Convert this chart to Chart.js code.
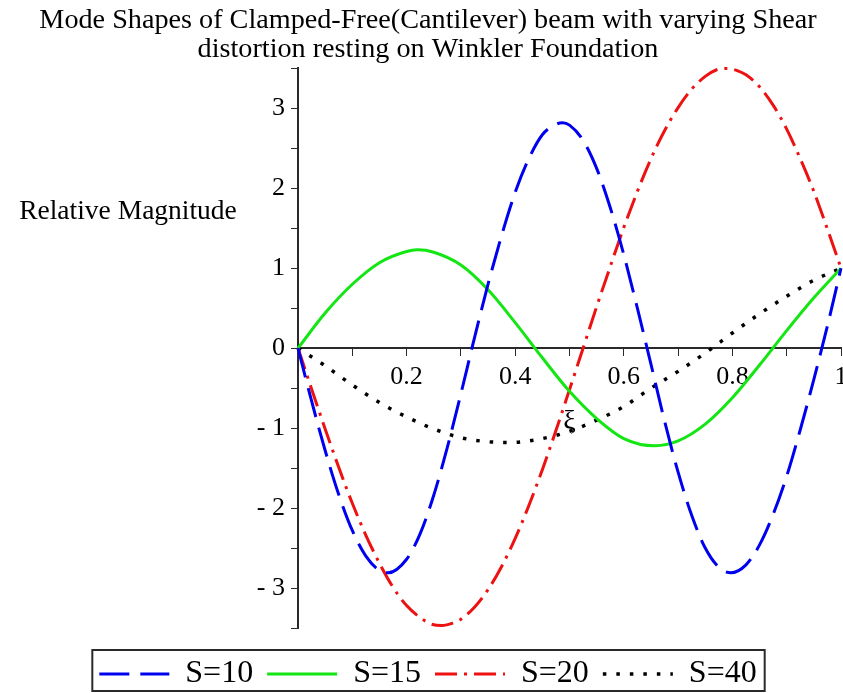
<!DOCTYPE html>
<html><head><meta charset="utf-8">
<script src="https://cdn.jsdelivr.net/npm/chart.js@4.4.1/dist/chart.umd.min.js"></script>
<style>html,body{margin:0;padding:0;background:#fff}#wrap{width:843px;height:693px;position:relative}</style>
</head><body><div id="wrap"><canvas id="c"></canvas></div>
<script>
// ---- data ----
const titleLines = ['Mode Shapes of Clamped-Free(Cantilever) beam with varying Shear', 'distortion resting on Winkler Foundation'];
const yAxisTitle = 'Relative Magnitude';
const xAxisTitle = 'ξ';
const seriesLabels = ['S=10', 'S=15', 'S=20', 'S=40'];
const xLabelTicks = [0.2, 0.4, 0.6, 0.8, 1];

const xi10 = [0, .025, .05, .075, .1, .125, .15, .166, .2, .225, .25, .275, .3, .325, .35, .375, .4, .425, .45, .475, .487, .5, .525, .55, .575, .6, .625, .65, .675, .7, .725, .75, .775, .797, .825, .85, .875, .9, .925, .95, .975, 1];
const s10  = [0, -0.66, -1.28, -1.83, -2.28, -2.60, -2.78, -2.81, -2.64, -2.32, -1.84, -1.24, -0.57, 0.13, 0.80, 1.41, 1.95, 2.37, 2.67, 2.80, 2.82, 2.79, 2.60, 2.25, 1.76, 1.17, 0.50, -0.20, -0.91, -1.55, -2.09, -2.50, -2.74, -2.81, -2.71, -2.46, -2.08, -1.60, -1.02, -0.39, 0.28, 1.0];

const xi15 = [0, .05, .1, .15, .2, .22, .25, .3, .35, .4, .45, .5, .55, .6, .657, .7, .75, .8, .85, .9, .95, 1];
const s15  = [0, 0.44, 0.80, 1.07, 1.21, 1.23, 1.20, 1.04, 0.73, 0.32, -0.12, -0.54, -0.88, -1.13, -1.22, -1.16, -0.95, -0.62, -0.21, 0.22, 0.63, 1.0];

const xi20 = [0, .025, .05, .075, .1, .125, .15, .175, .2, .225, .245, .265, .285, .3, .325, .35, .375, .4, .425, .45, .475, .5, .525, .55, .575, .6, .625, .65, .675, .7, .725, .75, .77, .79, .81, .825, .85, .875, .9, .925, .95, .975, 1];
const s20  = [0, -0.51, -1.01, -1.49, -1.94, -2.34, -2.69, -2.99, -3.22, -3.37, -3.45, -3.47, -3.44, -3.39, -3.24, -3.02, -2.73, -2.38, -1.97, -1.52, -1.03, -0.52, 0, 0.52, 1.02, 1.51, 1.96, 2.37, 2.72, 3.01, 3.24, 3.40, 3.48, 3.50, 3.47, 3.42, 3.27, 3.04, 2.74, 2.37, 1.96, 1.49, 1.0];

const xi40 = [0, .05, .1, .15, .2, .25, .3, .35, .39, .45, .5, .55, .6, .65, .7, .75, .8, .85, .9, .95, 1];
const s40  = [0, -0.22, -0.46, -0.68, -0.86, -1.01, -1.12, -1.17, -1.18, -1.13, -1.04, -0.90, -0.73, -0.50, -0.29, -0.06, 0.19, 0.43, 0.65, 0.85, 1.0];

const pts = (xs, ys) => xs.map((x, i) => ({x: x, y: ys[i]}));

Chart.defaults.font.family = "'Liberation Serif', 'Times New Roman', serif";
Chart.defaults.color = '#000';

const axisColor = '#2a2a2a';

const legendBorder = {
  id: 'legendBorder',
  afterDraw(chart) {
    const hb = chart.legend && chart.legend.legendHitBoxes;
    if (!hb || !hb.length) return;
    const ctx = chart.ctx;
    const l = hb[0].left - 7;
    const last = hb[hb.length - 1];
    const r = last.left + last.width + 8;
    const t = hb[0].top - 8;
    const b = hb[0].top + hb[0].height + 1;
    ctx.save();
    ctx.strokeStyle = axisColor;
    ctx.lineWidth = 2;
    ctx.strokeRect(l, t, r - l, b - t);
    ctx.restore();
  }
};

const yTitlePlugin = {
  id: 'yTitle',
  afterDraw(chart) {
    const ctx = chart.ctx;
    ctx.save();
    ctx.font = "27.5px 'Liberation Serif', serif";
    ctx.fillStyle = '#000';
    ctx.textAlign = 'center';
    ctx.textBaseline = 'middle';
    ctx.fillText(yAxisTitle, 128, chart.scales.y.getPixelForValue(1.71));
    ctx.restore();
  }
};

const ds = (label, data, color, dash, width) => ({
  label: label, data: data, borderColor: color, backgroundColor: color,
  borderWidth: width, borderDash: dash, pointRadius: 0, pointHoverRadius: 0,
  fill: false, cubicInterpolationMode: 'monotone', clip: 6, borderCapStyle: 'butt'
});

new Chart(document.getElementById('c'), {
  type: 'line',
  data: {
    datasets: [
      ds(seriesLabels[0], pts(xi10, s10), '#0000f0', [30, 11], 3),
      ds(seriesLabels[1], pts(xi15, s15), '#14e614', [], 3),
      ds(seriesLabels[2], pts(xi20, s20), '#ee1111', [22, 7, 3, 7], 3),
      ds(seriesLabels[3], pts(xi40, s40), '#000000', [3.5, 10], 3.5)
    ]
  },
  options: {
    responsive: true,
    maintainAspectRatio: false,
    animation: false,
    events: [],
    layout: {padding: {left: 10, right: -3, top: 0, bottom: -7}},
    plugins: {
      title: {
        display: true, text: titleLines, color: '#000',
        font: {size: 28.2, weight: 'normal', lineHeight: 1.0},
        padding: {top: 7, bottom: 5}
      },
      legend: {
        display: true, position: 'bottom',
        title: {display: true, text: ' ', padding: 0, font: {size: 13, lineHeight: '16px'}},
        labels: {
          usePointStyle: true, pointStyle: 'line', pointStyleWidth: 70,
          padding: 14, color: '#000', font: {size: 32},
          generateLabels: (chart) => {
            const items = Chart.defaults.plugins.legend.labels.generateLabels(chart);
            items.forEach((it, i) => {
              const d = chart.data.datasets[i];
              it.lineDash = d.borderDash;
              it.strokeStyle = d.borderColor;
              it.lineWidth = d.borderWidth;
              it.lineCap = 'butt';
              it.pointStyle = 'line';
            });
            return items;
          }
        }
      },
      tooltip: {enabled: false}
    },
    scales: {
      x: {
        type: 'linear', min: 0, max: 1,
        position: {y: 0},
        afterFit: (s) => { s.paddingRight = 2; s.paddingLeft = 0; },
        border: {display: true, color: axisColor, width: 2},
        grid: {display: true, drawOnChartArea: false, drawTicks: true, tickLength: 7, color: axisColor, lineWidth: 1},
        ticks: {
          stepSize: 0.1, autoSkip: false, maxRotation: 0, padding: 6,
          font: {size: 26}, color: '#000',
          callback: (v) => {
            const r = Math.round(v * 10) / 10;
            const hit = xLabelTicks.find(t => Math.abs(t - r) < 1e-9);
            return hit === undefined ? '' : String(hit);
          }
        },
        title: {display: true, text: xAxisTitle, font: {size: 28}, color: '#000', padding: {top: 6, bottom: 0}}
      },
      y: {
        type: 'linear', min: -3.5, max: 3.5,
        position: 'left',
        afterFit: (s) => { s.width = 288; },
        border: {display: true, color: axisColor, width: 2},
        grid: {display: true, drawOnChartArea: false, drawTicks: true, tickLength: 7, color: axisColor, lineWidth: 1},
        ticks: {
          stepSize: 0.5, autoSkip: false, padding: 6,
          font: {size: 26}, color: '#000',
          callback: (v) => {
            if (Math.abs(v - Math.round(v)) > 1e-9) return '';
            const n = Math.round(v);
            return n < 0 ? '- ' + Math.abs(n) : String(n);
          }
        }
      }
    }
  },
  plugins: [legendBorder, yTitlePlugin]
});
</script>
</body></html>
